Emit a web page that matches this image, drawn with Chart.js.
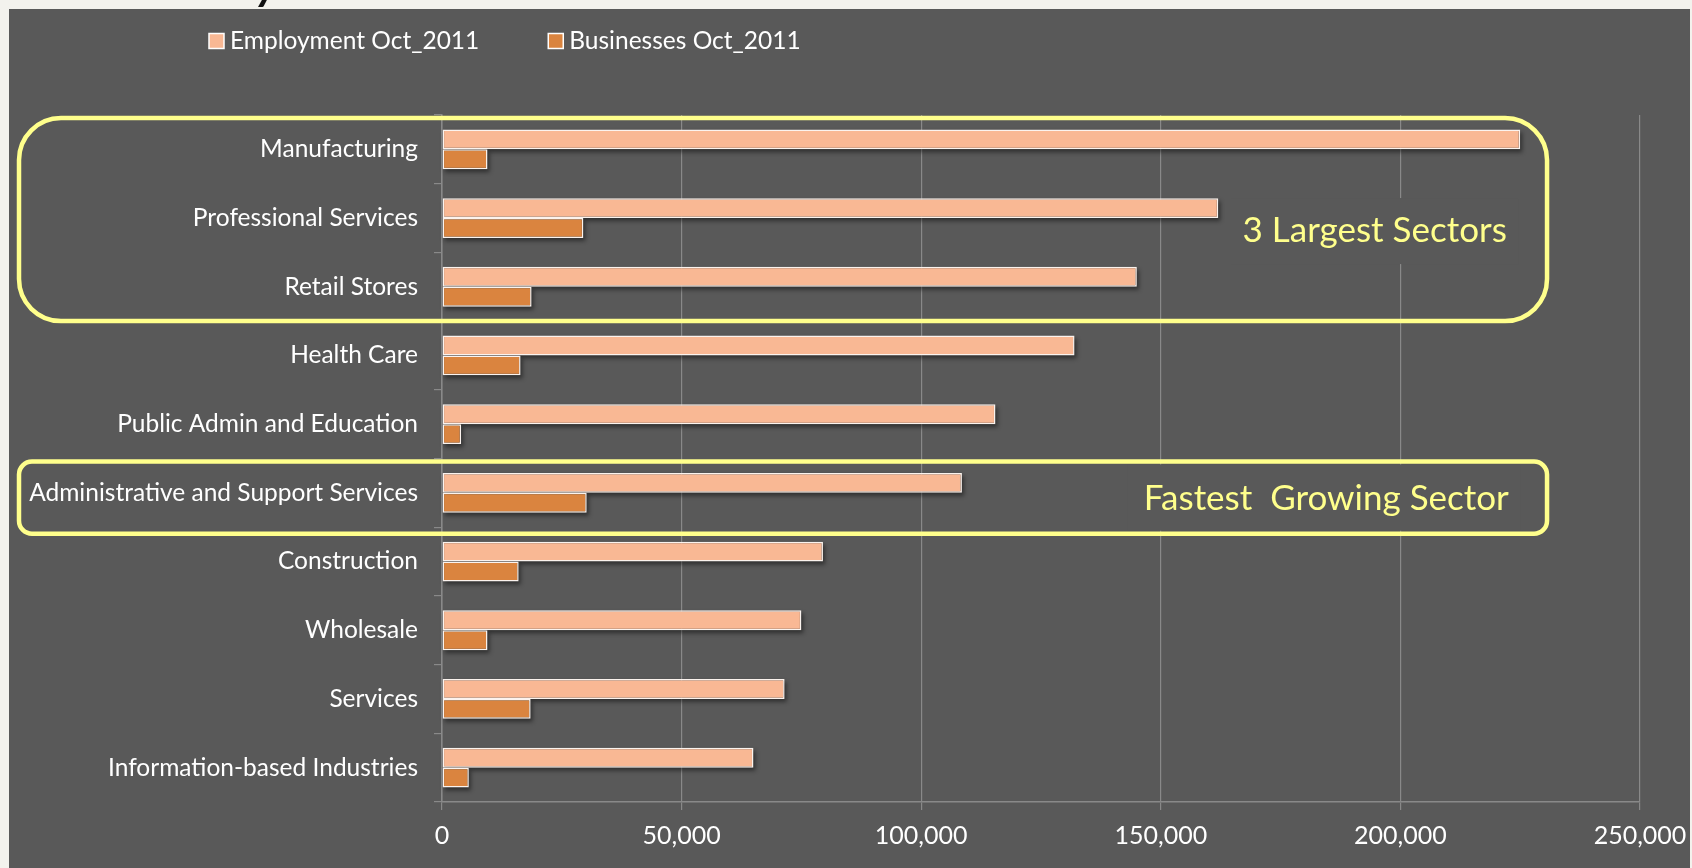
<!DOCTYPE html>
<html>
<head>
<meta charset="utf-8">
<script src="https://cdn.jsdelivr.net/npm/chart.js@4.4.1/dist/chart.umd.min.js"></script>
<style>
    html, body { margin: 0; padding: 0; background: #f3f2ed; overflow: hidden; }
    #wrap { position: absolute; left: 0; top: 0; width: 1692px; height: 868px; }
</style>
</head>
<body>
<div id="wrap"><canvas id="sectorChart"></canvas></div>
<script>
const sectors = [
    'Manufacturing',
    'Professional Services',
    'Retail Stores',
    'Health Care',
    'Public Admin and Education',
    'Administrative and Support Services',
    'Construction',
    'Wholesale',
    'Services',
    'Information-based Industries'
];
const employment = [225000, 162000, 145000, 132000, 115500, 108500, 79500, 75000, 71500, 65000];
const businesses = [9500, 29500, 18700, 16400, 4000, 30200, 16000, 9500, 18500, 5600];
const xTicks = [0, 50000, 100000, 150000, 200000, 250000];

const PANEL = '#595959';
const GRID = '#898989';
const YELLOW = '#ffff8c';
const FONT = 'Lato';

function roundRectPath(ctx, x, y, w, h, r) {
    ctx.beginPath();
    ctx.moveTo(x + r, y);
    ctx.arcTo(x + w, y, x + w, y + h, r);
    ctx.arcTo(x + w, y + h, x, y + h, r);
    ctx.arcTo(x, y + h, x, y, r);
    ctx.arcTo(x, y, x + w, y, r);
    ctx.closePath();
}

// dark panel on the beige slide, plus the cut-off title descender
const panelPlugin = {
    id: 'panel',
    beforeDraw(chart) {
        const ctx = chart.ctx;
        ctx.save();
        ctx.fillStyle = '#f3f2ed';
        ctx.fillRect(0, 0, chart.width, chart.height);
        ctx.fillStyle = '#111';
        ctx.font = 'italic bold 44px ' + FONT;
        ctx.textBaseline = 'alphabetic';
        ctx.fillText('y', 256, 0);
        ctx.fillStyle = PANEL;
        ctx.fillRect(9, 9, chart.width - 11, chart.height - 9);
        ctx.restore();
    }
};

// soft drop shadow under each bar
const shadowPlugin = {
    id: 'barShadow',
    beforeDatasetsDraw(chart) {
        const ctx = chart.ctx;
        ctx.save();
        ctx.fillStyle = 'rgba(0,0,0,0.45)';
        ctx.filter = 'blur(2px)';
        chart.data.datasets.forEach((ds, i) => {
            chart.getDatasetMeta(i).data.forEach(bar => {
                const p = bar.getProps(['x', 'y', 'base', 'height'], true);
                ctx.fillRect(p.base + 2, p.y - p.height / 2 + 3, p.x - p.base, p.height);
            });
        });
        ctx.restore();
    }
};

const notesPlugin = {
    id: 'notes',
    afterDraw(chart) {
        const { ctx, scales: { x, y } } = chart;
        const half = (y.getPixelForValue(1) - y.getPixelForValue(0)) / 2;
        ctx.save();

        // legend
        let lx = 209;
        const ly = 41;
        ctx.font = '24.5px ' + FONT;
        ctx.textAlign = 'left';
        ctx.textBaseline = 'middle';
        chart.data.datasets.forEach(ds => {
            ctx.fillStyle = ds.backgroundColor;
            ctx.fillRect(lx, ly - 7.5, 15, 15);
            ctx.strokeStyle = '#ffffff';
            ctx.lineWidth = 1.5;
            ctx.strokeRect(lx, ly - 7.5, 15, 15);
            ctx.fillStyle = '#ffffff';
            ctx.fillText(ds.label, lx + 21, ly);
            lx += 21 + ctx.measureText(ds.label).width + 69;
        });

        const right = x.getPixelForValue(230600);
        const textRight = x.getPixelForValue(222200);

        // 3 largest sectors
        let top = y.getPixelForValue(0) - half + 3;
        let bottom = y.getPixelForValue(2) + half;
        ctx.strokeStyle = YELLOW;
        ctx.lineWidth = 4.5;
        roundRectPath(ctx, 19, top, right - 19, bottom - top, 42);
        ctx.stroke();

        ctx.font = '35px ' + FONT;
        ctx.textAlign = 'right';
        let label = '3 Largest Sectors';
        let w = ctx.measureText(label).width;
        let ty = y.getPixelForValue(1) + 13;
        ctx.fillStyle = PANEL;
        ctx.fillRect(textRight - w - 12, ty - 33, w + 24, 66);
        ctx.fillStyle = YELLOW;
        ctx.fillText(label, textRight, ty);

        // fastest growing sector
        top = y.getPixelForValue(5) - half + 3;
        bottom = y.getPixelForValue(5) + half + 6.5;
        label = 'Fastest  Growing Sector';
        w = ctx.measureText(label).width;
        ty = (top + bottom) / 2 + 1;
        ctx.fillStyle = PANEL;
        ctx.fillRect(textRight - w - 14, top + 3, w + 28, bottom - top - 6);
        roundRectPath(ctx, 19, top, right - 19, bottom - top, 13);
        ctx.stroke();
        ctx.fillStyle = YELLOW;
        ctx.fillText(label, textRight + 2, ty);

        ctx.restore();
    }
};

Chart.defaults.font.family = FONT;

new Chart(document.getElementById('sectorChart'), {
    type: 'bar',
    data: {
        labels: sectors,
        datasets: [{
            label: 'Employment Oct_2011',
            data: employment,
            backgroundColor: '#f9b894',
            borderColor: '#fbf3ee',
            borderWidth: 1.5,
            borderSkipped: false,
            barPercentage: 1,
            categoryPercentage: 0.58
        }, {
            label: 'Businesses Oct_2011',
            data: businesses,
            backgroundColor: '#da843f',
            borderColor: '#fbf3ee',
            borderWidth: 1.5,
            borderSkipped: false,
            barPercentage: 1,
            categoryPercentage: 0.58
        }]
    },
    options: {
        indexAxis: 'y',
        responsive: true,
        maintainAspectRatio: false,
        animation: false,
        layout: { padding: { top: 115, right: 52, left: 0, bottom: 0 } },
        plugins: {
            legend: { display: false },
            tooltip: { enabled: false }
        },
        scales: {
            x: {
                min: xTicks[0],
                max: xTicks[xTicks.length - 1],
                afterFit: s => { s.height = 66; s.paddingRight = 0; s.paddingLeft = 0; },
                afterBuildTicks: s => { s.ticks = xTicks.map(v => ({ value: v })); },
                ticks: {
                    color: '#ffffff',
                    font: { size: 25 },
                    padding: 11,
                    callback: v => v.toLocaleString('en-US')
                },
                grid: { color: GRID, lineWidth: 1.2, tickLength: 8 },
                border: { color: GRID, width: 1.5 }
            },
            y: {
                afterFit: s => { s.width = 442; },
                ticks: {
                    color: '#ffffff',
                    font: { size: 24.5 },
                    padding: 16
                },
                grid: { drawOnChartArea: false, color: GRID, lineWidth: 1.2, tickLength: 8, offset: true },
                border: { color: GRID, width: 1.5 }
            }
        }
    },
    plugins: [panelPlugin, shadowPlugin, notesPlugin]
});
</script>
</body>
</html>
